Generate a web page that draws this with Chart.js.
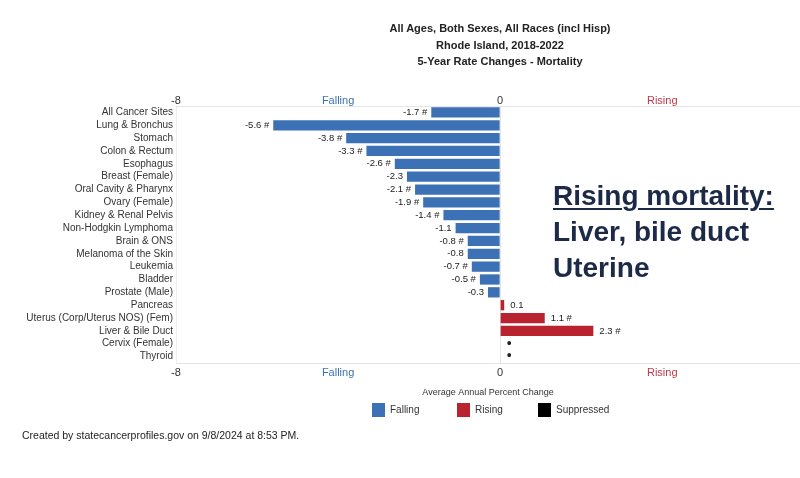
<!DOCTYPE html>
<html>
<head>
<meta charset="utf-8">
<script src="https://cdn.jsdelivr.net/npm/chart.js@4/dist/chart.umd.min.js"></script>
<style>
  body { margin: 0; background: #fff; font-family: "Liberation Sans", Arial, sans-serif; }
  #wrap { position: relative; width: 800px; height: 478px; overflow: hidden; }
  #chart { position: absolute; left: 0; top: 0; }
  .title { position: absolute; left: 300px; width: 400px; text-align: center; font-weight: bold; font-size: 11px; color: #222; }
  #note { position: absolute; left: 553px; top: 178px; font-weight: bold; font-size: 28px; line-height: 36px; color: #1d2a47; }
  #note u { text-decoration-thickness: 2px; text-underline-offset: 3px; }
  #legend { position: absolute; top: 403px; left: 372px; font-size: 10px; color: #333; }
  #legend span.item { position: absolute; white-space: nowrap; }
  #legend span.box { display: inline-block; width: 13px; height: 14px; vertical-align: middle; margin-right: 5px; }
  #foot { position: absolute; left: 22px; top: 429px; font-size: 10.5px; color: #222; }
</style>
</head>
<body>
<div id="wrap">
  <canvas id="chart" width="800" height="478"></canvas>
  <div class="title" style="top:22px">All Ages, Both Sexes, All Races (incl Hisp)</div>
  <div class="title" style="top:39px">Rhode Island, 2018-2022</div>
  <div class="title" style="top:55px">5-Year Rate Changes - Mortality</div>
  <div id="note"><u>Rising mortality:</u><br>Liver, bile duct<br>Uterine</div>
  <div id="legend">
    <span class="item" style="left:0"><span class="box" style="background:#3c72b5"></span>Falling</span>
    <span class="item" style="left:85px"><span class="box" style="background:#b8232f"></span>Rising</span>
    <span class="item" style="left:166px"><span class="box" style="background:#000"></span>Suppressed</span>
  </div>
  <div id="foot">Created by statecancerprofiles.gov on 9/8/2024 at 8:53 PM.</div>
</div>
<script>
var categories = ['All Cancer Sites', 'Lung & Bronchus', 'Stomach', 'Colon & Rectum', 'Esophagus',
    'Breast (Female)', 'Oral Cavity & Pharynx', 'Ovary (Female)', 'Kidney & Renal Pelvis',
    'Non-Hodgkin Lymphoma', 'Brain & ONS', 'Melanoma of the Skin', 'Leukemia', 'Bladder',
    'Prostate (Male)', 'Pancreas', 'Uterus (Corp/Uterus NOS) (Fem)', 'Liver & Bile Duct',
    'Cervix (Female)', 'Thyroid'];
var apc = [-1.7, -5.6, -3.8, -3.3, -2.6, -2.3, -2.1, -1.9, -1.4, -1.1, -0.8, -0.8, -0.7, -0.5, -0.3, 0.1, 1.1, 2.3, null, null];
var significant = [true, true, true, true, true, false, true, true, true, false, true, false, true, true, false, false, true, true, false, false];
var suppressed = [false, false, false, false, false, false, false, false, false, false, false, false, false, false, false, false, false, false, true, true];
var tickValues = [-8, -4, 0, 4];
var tickLabels = ['-8', 'Falling', '0', 'Rising'];

var BLUE = '#3c72b5', RED = '#b8232f';
var FONT = '"Liberation Sans", Arial';

var falling = apc.map(function (v) { return v !== null && v < 0 ? v : null; });
var rising = apc.map(function (v) { return v !== null && v > 0 ? v : null; });

// value labels next to bars, and a dot for suppressed rows
const barLabels = {
    id: 'barLabels',
    afterDatasetsDraw(chart) {
        const ctx = chart.ctx;
        const xs = chart.scales.x, ys = chart.scales.y;
        ctx.save();
        ctx.fillStyle = '#222';
        ctx.textBaseline = 'middle';
        for (let i = 0; i < apc.length; i++) {
            const y = ys.getPixelForValue(i);
            if (suppressed[i]) {
                ctx.font = '14px ' + FONT;
                ctx.textAlign = 'center';
                ctx.fillText('\u2022', xs.getPixelForValue(0) + 9, y);
                continue;
            }
            ctx.font = '9.5px ' + FONT;
            const v = apc[i];
            const txt = v.toFixed(1) + (significant[i] ? ' #' : '');
            const x = xs.getPixelForValue(v);
            if (v < 0) { ctx.textAlign = 'right'; ctx.fillText(txt, x - 4, y); }
            else { ctx.textAlign = 'left'; ctx.fillText(txt, x + 6, y); }
        }
        ctx.restore();
    }
};

function xTicks(scale) {
    scale.ticks = tickValues.map(function (v) { return { value: v }; });
}
function tickColor(c) {
    if (c.tick && c.tick.value === -4) return BLUE;
    if (c.tick && c.tick.value === 4) return '#c0394a';
    return '#333';
}
function tickText(value) {
    return tickLabels[tickValues.indexOf(value)];
}

const ctx = document.getElementById('chart').getContext('2d');
var myChart = new Chart(ctx, {
    type: 'bar',
    data: {
        labels: categories,
        datasets: [
            { label: 'Falling', data: falling, backgroundColor: BLUE, grouped: false, barPercentage: 0.8, categoryPercentage: 1 },
            { label: 'Rising', data: rising, backgroundColor: RED, grouped: false, barPercentage: 0.8, categoryPercentage: 1 }
        ]
    },
    options: {
        indexAxis: 'y',
        responsive: false,
        animation: false,
        layout: { padding: { top: 92, bottom: 80, left: 0, right: 0 } },
        plugins: { legend: { display: false }, tooltip: { enabled: false } },
        scales: {
            y: {
                afterFit: function (s) { s.width = 176; },
                grid: { display: false, drawTicks: false },
                border: { color: '#eee' },
                ticks: { color: '#333', font: { size: 10, family: FONT }, padding: 3, autoSkip: false }
            },
            x: {
                position: 'bottom',
                min: -8, max: 7.4,
                afterBuildTicks: xTicks,
                afterFit: function (s) { s.height = 35; },
                grid: { drawTicks: false, color: function (c) { return c.tick && c.tick.value === 0 ? '#e4e4e4' : 'rgba(0,0,0,0)'; } },
                border: { color: '#e4e4e4' },
                ticks: { callback: tickText, color: tickColor, padding: 3, font: { size: 11, family: FONT }, maxRotation: 0 },
                title: { display: true, text: 'Average Annual Percent Change', color: '#333', font: { size: 9, family: FONT }, padding: { top: 2, bottom: 0 } }
            },
            x2: {
                position: 'top',
                axis: 'x',
                min: -8, max: 7.4,
                afterBuildTicks: xTicks,
                afterFit: function (s) { s.height = 14; },
                grid: { display: false, drawTicks: false },
                border: { color: '#e4e4e4' },
                ticks: { callback: tickText, color: tickColor, padding: -2, font: { size: 11, family: FONT }, maxRotation: 0 }
            }
        }
    },
    plugins: [barLabels]
});
</script>
</body>
</html>
